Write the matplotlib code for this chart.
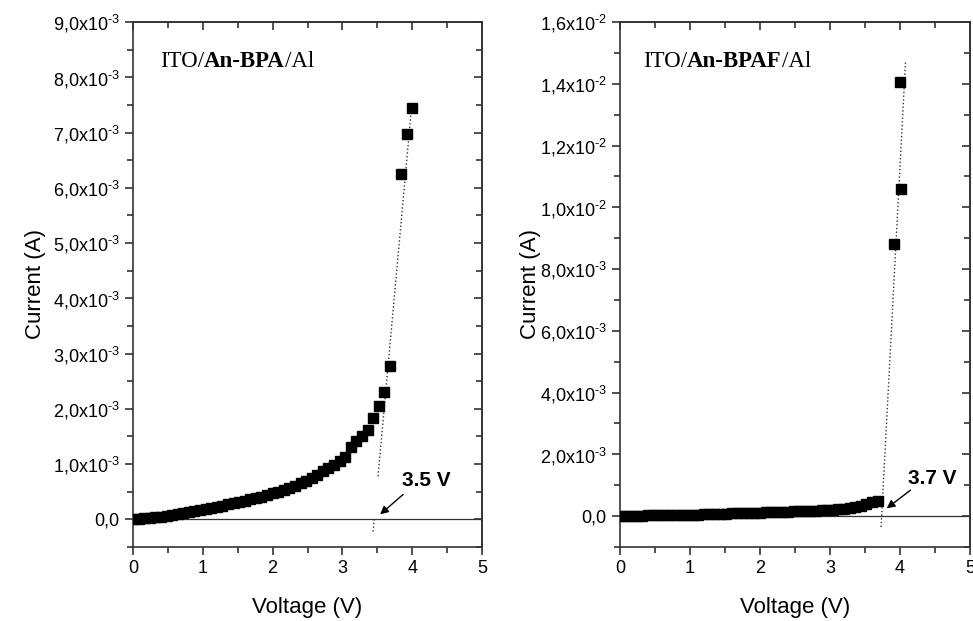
import math

import matplotlib
matplotlib.use("Agg")
import matplotlib.pyplot as plt
from matplotlib.ticker import MultipleLocator, FuncFormatter

plt.rcParams["font.family"] = ["Liberation Sans", "DejaVu Sans"]
plt.rcParams["mathtext.fontset"] = "custom"
plt.rcParams["mathtext.rm"] = "Liberation Sans"
plt.rcParams["mathtext.default"] = "regular"

# ITO/An-BPA/Al  (voltage in V, current in mA -> scaled to A below)
bpa_v = [0.00, 0.08, 0.16, 0.24, 0.32, 0.40, 0.48, 0.56, 0.64, 0.72,
         0.80, 0.88, 0.96, 1.04, 1.12, 1.20, 1.28, 1.36, 1.44, 1.52,
         1.60, 1.68, 1.76, 1.84, 1.92, 2.00, 2.08, 2.16, 2.24, 2.32,
         2.40, 2.48, 2.56, 2.64, 2.72, 2.80, 2.88, 2.96, 3.04, 3.12,
         3.20, 3.28, 3.36, 3.44, 3.52, 3.60, 3.68, 3.84, 3.92, 4.00]
bpa_ma = [0.00, 0.01, 0.02, 0.03, 0.04, 0.05, 0.06, 0.08, 0.09, 0.11,
          0.13, 0.15, 0.17, 0.19, 0.21, 0.23, 0.25, 0.27, 0.29, 0.31,
          0.34, 0.36, 0.39, 0.41, 0.44, 0.47, 0.50, 0.53, 0.57, 0.61,
          0.65, 0.70, 0.75, 0.81, 0.87, 0.93, 0.99, 1.06, 1.13, 1.31,
          1.41, 1.50, 1.61, 1.83, 2.06, 2.31, 2.77, 6.25, 6.98, 7.45]

# ITO/An-BPAF/Al
bpaf_v = [0.00, 0.08, 0.16, 0.24, 0.32, 0.40, 0.48, 0.56, 0.64, 0.72,
          0.80, 0.88, 0.96, 1.04, 1.12, 1.20, 1.28, 1.36, 1.44, 1.52,
          1.60, 1.68, 1.76, 1.84, 1.92, 2.00, 2.08, 2.16, 2.24, 2.32,
          2.40, 2.48, 2.56, 2.64, 2.72, 2.80, 2.88, 2.96, 3.04, 3.12,
          3.20, 3.28, 3.36, 3.44, 3.52, 3.60, 3.68, 3.92, 4.00, 4.02]
bpaf_ma = [0.00, 0.00, 0.01, 0.01, 0.01, 0.02, 0.02, 0.02, 0.03, 0.03,
           0.03, 0.04, 0.04, 0.05, 0.05, 0.06, 0.06, 0.07, 0.07, 0.08,
           0.09, 0.09, 0.10, 0.10, 0.11, 0.11, 0.12, 0.12, 0.13, 0.13,
           0.14, 0.15, 0.15, 0.16, 0.17, 0.18, 0.19, 0.20, 0.21, 0.22,
           0.24, 0.26, 0.29, 0.33, 0.38, 0.45, 0.50, 8.80, 14.05, 10.60]

# dotted extrapolation lines: (V, mA) end points
bpa_fit_upper = ([3.51, 3.99], [0.78, 7.45])
bpa_fit_lower = ([3.44, 3.455], [-0.22, 0.0])
bpaf_fit = ([3.73, 4.08], [-0.35, 14.76])

onset_labels = ["3.5 V", "3.7 V"]
device_names = ["An-BPA", "An-BPAF"]

EDGE = "#333333"


def sci_comma(v, pos):
    if abs(v) < 1e-12:
        return "0,0"
    exp = int(math.floor(math.log10(abs(v)) + 1e-9))
    mant = v / 10 ** exp
    sign = r"\text{-}" if exp < 0 else ""
    return f"{mant:.1f}".replace(".", ",") + "x10$^{%s%d}$" % (sign, abs(exp))


def style_axes(ax, ymajor, ylim):
    ax.set_xlim(0, 5)
    ax.set_ylim(*ylim)
    ax.xaxis.set_major_locator(MultipleLocator(1))
    ax.xaxis.set_minor_locator(MultipleLocator(0.5))
    ax.yaxis.set_major_locator(MultipleLocator(ymajor))
    ax.yaxis.set_minor_locator(MultipleLocator(ymajor / 2))
    ax.yaxis.set_major_formatter(FuncFormatter(sci_comma))
    for sp in ax.spines.values():
        sp.set_color(EDGE)
        sp.set_linewidth(1.2)
    ax.tick_params(which="both", direction="out", color=EDGE, width=1.2,
                   labelsize=13, top=False, right=False)
    ax.tick_params(which="major", length=6)
    ax.tick_params(which="minor", length=4)
    ax.axhline(0, color=EDGE, lw=0.9, zorder=1)

    # mirrored ticks on top/right pointing inward
    top = ax.secondary_xaxis("top")
    top.xaxis.set_major_locator(MultipleLocator(1))
    top.xaxis.set_minor_locator(MultipleLocator(0.5))
    top.tick_params(which="both", direction="in", color=EDGE, width=1.2, labeltop=False)
    top.tick_params(which="major", length=6)
    top.tick_params(which="minor", length=4)
    right = ax.secondary_yaxis("right")
    right.yaxis.set_major_locator(MultipleLocator(ymajor))
    right.yaxis.set_minor_locator(MultipleLocator(ymajor / 2))
    right.tick_params(which="both", direction="in", color=EDGE, width=1.2, labelright=False)
    right.tick_params(which="major", length=6)
    right.tick_params(which="minor", length=4)
    for s in (top, right):
        for sp in s.spines.values():
            sp.set_color(EDGE)
            sp.set_linewidth(1.2)

    ax.set_xlabel("Voltage (V)", fontsize=16, va="center")
    ax.set_ylabel("Current (A)", fontsize=16, va="center")
    ax.xaxis.set_label_coords(0.5, -0.116)


def device_title(ax, name, x):
    t1 = ax.text(x, 0.915, "ITO/", transform=ax.transAxes, fontsize=16.5,
                 family="Liberation Serif", va="baseline", ha="left")
    t2 = ax.annotate(name, xy=(1, 0), xycoords=t1, fontsize=16.5, fontweight="bold",
                     family="Liberation Serif", va="bottom", ha="left")
    ax.annotate("/Al", xy=(1, 0), xycoords=t2, fontsize=16.5,
                family="Liberation Serif", va="bottom", ha="left")


def to_amp(vals):
    return [v * 1e-3 for v in vals]


fig = plt.figure(figsize=(9.73, 6.21), dpi=100)
ax_l = fig.add_axes([0.1367, 0.1192, 0.3587, 0.8454])
ax_r = fig.add_axes([0.6372, 0.1192, 0.3597, 0.8454])

# left panel
style_axes(ax_l, 1e-3, (-0.5e-3, 9e-3))
ax_l.yaxis.set_label_coords(-0.28, 0.5)
ax_l.plot(bpa_v, to_amp(bpa_ma), "s", color="black", markersize=6.5, zorder=3)
for xs, ys in (bpa_fit_upper, bpa_fit_lower):
    ax_l.plot(xs, to_amp(ys), ":", color=EDGE, lw=1.0, zorder=2)
ax_l.text(3.85, 0.61e-3, onset_labels[0], fontsize=15, fontweight="bold")
ax_l.annotate("", xy=(3.54, 0.09e-3), xytext=(3.87, 0.45e-3),
              arrowprops=dict(arrowstyle="-|>", color="black", lw=1.0,
                              mutation_scale=12, shrinkA=0, shrinkB=0))
device_title(ax_l, device_names[0], 0.077)

# right panel
style_axes(ax_r, 2e-3, (-1e-3, 16e-3))
ax_r.yaxis.set_label_coords(-0.257, 0.5)
ax_r.plot(bpaf_v, to_amp(bpaf_ma), "s", color="black", markersize=6.5, zorder=3)
ax_r.plot(bpaf_fit[0], to_amp(bpaf_fit[1]), ":", color=EDGE, lw=1.0, zorder=2)
ax_r.text(4.11, 1.05e-3, onset_labels[1], fontsize=15, fontweight="bold")
ax_r.annotate("", xy=(3.81, 0.25e-3), xytext=(4.15, 0.84e-3),
              arrowprops=dict(arrowstyle="-|>", color="black", lw=1.0,
                              mutation_scale=12, shrinkA=0, shrinkB=0))
device_title(ax_r, device_names[1], 0.066)

fig.savefig("out.png", dpi=100)
